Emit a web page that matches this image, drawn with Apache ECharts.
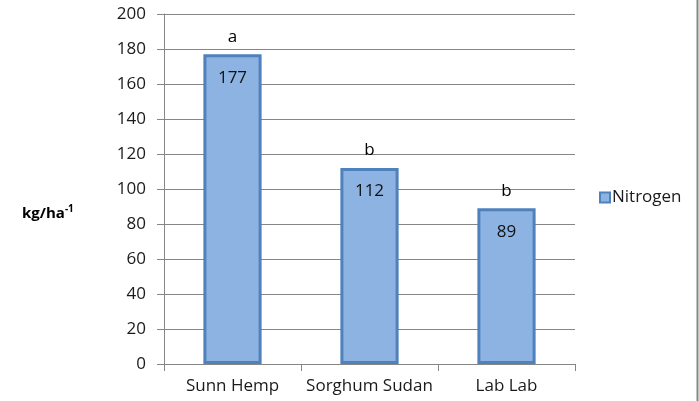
<!DOCTYPE html>
<html>
<head>
<meta charset="utf-8">
<script src="https://cdn.jsdelivr.net/npm/echarts@6/dist/echarts.min.js"></script>
<style>html,body{margin:0;padding:0;background:#fff;}#c{width:699px;height:401px;}</style>
</head>
<body>
<div id="c"></div>
<script>
var categories = ['Sunn Hemp', 'Sorghum Sudan', 'Lab Lab'];
var nitrogen = [177, 112, 89];
var letters = ['a', 'b', 'b'];
var yTicks = { min: 0, max: 200, interval: 20 };

var font = '"Open Sans", "Liberation Sans", sans-serif';
var chart = echarts.init(document.getElementById('c'), null, { renderer: 'canvas' });
chart.setOption({
  animation: false,
  backgroundColor: '#fff',
  grid: { left: 164, right: 124, top: 14, bottom: 37 },
  legend: {
    data: ['Nitrogen'],
    left: 594, top: 184,
    itemWidth: 10, itemHeight: 10, itemGap: 4,
    icon: 'rect',
    textStyle: { fontFamily: font, fontSize: 17, color: '#1a1a1a', padding: [0, 0, 0, -3] }
  },
  xAxis: {
    type: 'category',
    data: categories,
    axisLine: { lineStyle: { color: '#868686', width: 1 } },
    axisTick: { show: true, length: 7, lineStyle: { color: '#868686' } },
    axisLabel: { interval: 0, fontFamily: font, fontSize: 17, color: '#1a1a1a', margin: 14 }
  },
  yAxis: {
    type: 'value',
    min: yTicks.min, max: yTicks.max, interval: yTicks.interval,
    axisLine: { show: true, lineStyle: { color: '#868686', width: 1 } },
    axisTick: { show: true, length: 7, lineStyle: { color: '#868686' } },
    splitLine: { lineStyle: { color: '#868686', width: 1 } },
    axisLabel: { fontFamily: font, fontSize: 17, color: '#1a1a1a', margin: 18 }
  },
  series: [
    {
      name: 'Nitrogen',
      type: 'bar',
      data: nitrogen,
      barWidth: '42.5%',
      itemStyle: { color: '#8db3e2', borderColor: '#4f81bd', borderWidth: 3 },
      label: {
        show: true, position: 'insideTop', distance: 15,
        fontFamily: font, fontSize: 17, color: '#111'
      },
      z: 2
    },
    {
      name: 'letters',
      type: 'bar',
      data: nitrogen,
      barWidth: '42.5%',
      barGap: '-100%',
      itemStyle: { color: 'rgba(0,0,0,0)' },
      label: {
        show: true, position: 'top', distance: 9,
        formatter: function (p) { return letters[p.dataIndex]; },
        fontFamily: font, fontSize: 17, color: '#000'
      },
      silent: true,
      z: 1
    }
  ],
  graphic: [
    {
      type: 'text',
      left: 22, top: 204,
      style: {
        text: '{b|kg/ha}{s|-1}',
        rich: {
          b: { fontFamily: font, fontSize: 15, fontWeight: 'bold', fill: '#000', verticalAlign: 'bottom' },
          s: { fontFamily: font, fontSize: 10, fontWeight: 'bold', fill: '#000', padding: [0, 0, 7, 0], verticalAlign: 'bottom' }
        }
      }
    },
    {
      type: 'line',
      shape: { x1: 697.5, y1: 0, x2: 697.5, y2: 401 },
      style: { stroke: '#868686', lineWidth: 2 }
    }
  ]
});
</script>
</body>
</html>
